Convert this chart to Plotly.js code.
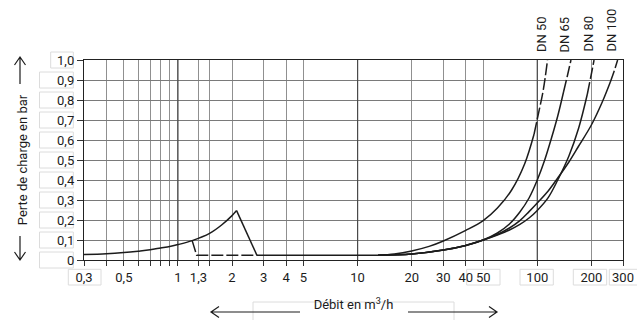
<!DOCTYPE html>
<html>
<head>
<meta charset="utf-8">
<script src="https://cdn.plot.ly/plotly-3.0.1.min.js"></script>
<style>
  html, body { margin: 0; padding: 0; background: #fff; }
  #chart { width: 637px; height: 320px; }
</style>
</head>
<body>
<div id="chart"></div>
<script>
// ---------- data ----------
// Axis ticks / grid
const flowTicks     = [0.3, 0.5, 1, 1.3, 2, 3, 4, 5, 10, 20, 30, 40, 50, 100, 200, 300];
const flowTickText  = ['0,3', '0,5', '1', '1,3', '2', '3', '4', '5', '10', '20', '30', '40', '50', '100', '200', '300'];
const flowMinor     = [0.4, 0.6, 0.7, 0.8, 0.9, 1.5];
const majorFlow     = [1, 10, 100];
const lossTicks     = [0, 0.1, 0.2, 0.3, 0.4, 0.5, 0.6, 0.7, 0.8, 0.9, 1.0];
const lossTickText  = ['0', '0,1', '0,2', '0,3', '0,4', '0,5', '0,6', '0,7', '0,8', '0,9', '1,0'];

// Low-flow branch (rising part, then drop)
const lowFlow   = [0.3, 0.4, 0.5, 0.6, 0.7, 0.8, 0.9, 1.0, 1.2, 1.5, 1.75, 2.0, 2.12];
const lowLoss   = [0.027, 0.031, 0.037, 0.044, 0.051, 0.06, 0.068, 0.077, 0.097, 0.133, 0.175, 0.222, 0.247];
const dropFlow  = [2.12, 2.75];
const dropLoss  = [0.247, 0.024];
// Dashed by-pass line
const bypassFlow = [1.2, 1.27, 2.75];
const bypassLoss = [0.097, 0.024, 0.024];
// Flat common line
const flatFlow  = [2.75, 13];
const flatLoss  = [0.024, 0.024];

// DN curves: solid part + dashed upper part
const dn50Flow      = [13, 16, 20, 25, 30, 40, 50, 60, 72, 85, 96];
const dn50Loss      = [0.024, 0.03, 0.045, 0.068, 0.095, 0.148, 0.197, 0.26, 0.35, 0.48, 0.63];
const dn50DashFlow  = [96, 100, 108, 114];
const dn50DashLoss  = [0.63, 0.705, 0.85, 1.0];

const dn65Flow      = [13, 20, 30, 40, 50, 60, 70, 80, 90, 100, 110, 120, 130, 140];
const dn65Loss      = [0.024, 0.03, 0.05, 0.073, 0.1, 0.135, 0.18, 0.24, 0.31, 0.4, 0.5, 0.61, 0.72, 0.84];
const dn65DashFlow  = [140, 147, 154];
const dn65DashLoss  = [0.84, 0.92, 1.0];

const dn80Flow      = [13, 20, 30, 40, 50, 60, 70, 80, 90, 100, 115, 130, 150, 170, 190];
const dn80Loss      = [0.024, 0.03, 0.05, 0.073, 0.1, 0.125, 0.15, 0.178, 0.21, 0.248, 0.312, 0.4, 0.52, 0.66, 0.83];
const dn80DashFlow  = [190, 200, 207];
const dn80DashLoss  = [0.83, 0.93, 1.0];

const dn100Flow     = [13, 20, 30, 40, 50, 60, 70, 80, 90, 100, 115, 130, 150, 170, 200, 230, 255];
const dn100Loss     = [0.024, 0.03, 0.05, 0.073, 0.1, 0.128, 0.16, 0.197, 0.242, 0.285, 0.345, 0.41, 0.49, 0.57, 0.675, 0.79, 0.89];
const dn100DashFlow = [255, 268, 280];
const dn100DashLoss = [0.89, 0.945, 1.0];

const dnLabels = ['DN 50', 'DN 65', 'DN 80', 'DN 100'];
const xTitle = 'Débit en m<sup>3</sup>/h';
const yTitle = 'Perte de charge en bar';

// ---------- drawing ----------
const ink = '#1c1c1c';
const FONT = 'Roboto, "DejaVu Sans", sans-serif';

function solid(x, y, spline) {
  return { x: x, y: y, type: 'scatter', mode: 'lines', hoverinfo: 'skip', showlegend: false,
           line: { color: ink, width: 1.5, shape: spline ? 'spline' : 'linear', smoothing: 1 } };
}
function dashed(x, y, spline) {
  const t = solid(x, y, spline);
  t.line.dash = '12px,3px';
  return t;
}

// darker major grid lines (1, 10, 100)
const mx = [], my = [];
majorFlow.forEach(v => { mx.push(v, v, null); my.push(0, 1, null); });

const traces = [
  { x: mx, y: my, type: 'scatter', mode: 'lines', hoverinfo: 'skip', showlegend: false,
    line: { color: '#4a4a4a', width: 1.2 } },
  solid(lowFlow, lowLoss, true),
  solid(dropFlow, dropLoss, false),
  dashed(bypassFlow, bypassLoss, false),
  solid(flatFlow, flatLoss, false),
  solid(dn50Flow, dn50Loss, true),  dashed(dn50DashFlow, dn50DashLoss, true),
  solid(dn65Flow, dn65Loss, true),  dashed(dn65DashFlow, dn65DashLoss, true),
  solid(dn80Flow, dn80Loss, true),  dashed(dn80DashFlow, dn80DashLoss, true),
  solid(dn100Flow, dn100Loss, true), dashed(dn100DashFlow, dn100DashLoss, true)
];

// geometry helpers for decorations outside the plot
const W = 637, H = 320, L = 84, R = 14, T = 60, B = 60;
const pw = W - L - R, ph = H - T - B;
const px = v => (v - L) / pw;
const py = v => (H - B - v) / ph;

const annotations = [];
// DN labels at top of each curve
const tops = [dn50DashFlow, dn65DashFlow, dn80DashFlow, dn100DashFlow];
dnLabels.forEach((lab, i) => {
  const arr = tops[i];
  annotations.push({ text: lab, x: Math.log10(arr[arr.length - 1]), xref: 'x', y: 1, yref: 'paper',
    xanchor: 'center', yanchor: 'bottom', textangle: -90, showarrow: false, xshift: -6.5, yshift: 6,
    font: { family: FONT, size: 13, color: ink } });
});

const shapes = [];
// long arrows beside the axis titles, drawn as paths
function arrow(tx, ty, hx, hy) {
  const len = Math.hypot(hx - tx, hy - ty);
  const dx = (hx - tx) / len, dy = (hy - ty) / len;
  const back = 8, half = 5.5;
  const w1x = hx - back * dx - half * dy, w1y = hy - back * dy + half * dx;
  const w2x = hx - back * dx + half * dy, w2y = hy - back * dy - half * dx;
  const P = (a, b) => px(a) + ',' + py(b);
  shapes.push({ type: 'path', xref: 'paper', yref: 'paper',
    path: 'M' + P(tx, ty) + 'L' + P(hx, hy) + 'M' + P(w1x, w1y) + 'L' + P(hx, hy) + 'L' + P(w2x, w2y),
    line: { color: ink, width: 1.2 }, layer: 'above' });
}
arrow(300, 312, 211, 312);
arrow(408, 312, 497, 312);
arrow(20, 236, 20, 260);
arrow(20, 84, 20, 57);

// faint label boxes (scan artefacts in the reference)
const boxCol = '#dcdcdc';
function box(x0, y0, x1, y1) {
  shapes.push({ type: 'rect', xref: 'paper', yref: 'paper', x0: px(x0), x1: px(x1), y0: py(y1), y1: py(y0),
    line: { color: boxCol, width: 1 }, fillcolor: 'rgba(0,0,0,0)', layer: 'below' });
}
lossTicks.forEach((v, i) => {
  const yc = (H - B) - v * ph;
  const x0 = lossTickText[i] === '1,0' ? 50.7 : 39.5;
  box(x0, yc - 8, 73.3, yc + 8);
});
box(68.3, 269.3, 101, 285);
box(466.7, 269.3, 500, 285);
box(520, 269.3, 553.3, 285);
box(573.3, 269.3, 606.7, 285);
box(609.3, 269.3, 645, 285);
box(253, 302, 454, 325);

const layout = {
  width: W, height: H,
  margin: { l: L, r: R, t: T, b: B, pad: 0 },
  paper_bgcolor: '#fff', plot_bgcolor: '#fff',
  showlegend: false,
  font: { family: FONT, size: 13, color: ink },
  xaxis: {
    type: 'log', range: [Math.log10(0.3), Math.log10(300)],
    tickmode: 'array', tickvals: flowTicks, ticktext: flowTickText,
    showgrid: true, gridcolor: '#909090', gridwidth: 1,
    ticks: 'outside', ticklen: 5, tickcolor: '#333', tickwidth: 1,
    minor: { tickmode: 'array', tickvals: flowMinor, ticks: 'outside', ticklen: 5, tickcolor: '#333',
             tickwidth: 1, showgrid: true, gridcolor: '#909090', gridwidth: 1 },
    showline: true, linecolor: '#222', linewidth: 1.2, mirror: true,
    zeroline: false, tickangle: 0,
    tickfont: { family: FONT, size: 13, color: ink },
    title: { text: xTitle, standoff: 16, font: { family: FONT, size: 13, color: ink } }
  },
  yaxis: {
    range: [0, 1],
    tickmode: 'array', tickvals: lossTicks, ticktext: lossTickText,
    showgrid: true, gridcolor: '#7a7a7a', gridwidth: 1,
    ticks: 'outside', ticklen: 6, tickcolor: '#333', tickwidth: 1,
    showline: true, linecolor: '#222', linewidth: 1.2, mirror: true,
    zeroline: false,
    tickfont: { family: FONT, size: 13, color: ink },
    title: { text: yTitle, standoff: 26, font: { family: FONT, size: 13, color: ink } }
  },
  annotations: annotations,
  shapes: shapes
};

Plotly.newPlot('chart', traces, layout, { staticPlot: true, displayModeBar: false });
</script>
</body>
</html>
